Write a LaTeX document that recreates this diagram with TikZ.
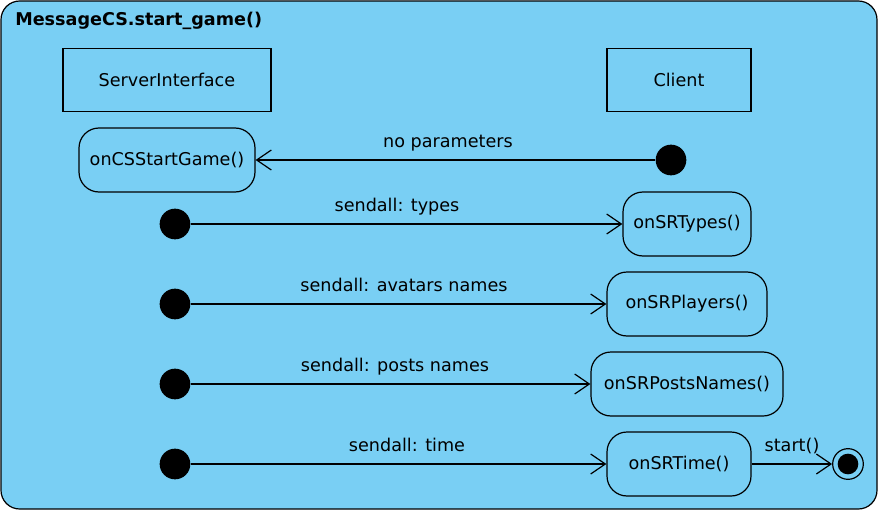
\documentclass[tikz,border=0pt]{standalone}
\usepackage{fontspec}
\setmainfont{DejaVu Sans}
\usetikzlibrary{arrows.meta}
\definecolor{bgblue}{HTML}{79CFF4}
\begin{document}
\begin{tikzpicture}[x=0.75pt,y=-0.75pt,
  font=\fontsize{13.2pt}{15pt}\selectfont,
  every node/.style={inner sep=0pt},
  lane/.style={draw=black,line width=0.9pt,minimum height=47.25pt},
  statebox/.style={draw=black,line width=0.9pt,rounded corners=15pt,minimum height=48pt},
  initdot/.style={circle,fill=black,minimum size=23pt},
  msg/.style={draw=black,line width=0.9pt,-{Straight Barb[length=11pt,width=15pt,line width=0.9pt]}},
  lbl/.style={anchor=base}
]
\useasboundingbox (0,0) rectangle (878,510);
\draw[fill=bgblue,draw=black,line width=0.9pt,rounded corners=14pt] (1,1) rectangle (877,509);
\node[anchor=base west,font=\fontsize{13.2pt}{15pt}\selectfont\bfseries] (title) at (15,26) {MessageCS.start\_game()};

\node[lane,minimum width=156pt] (srv) at (167,80) {ServerInterface};
\node[lane,minimum width=108pt] (cli) at (679,80) {Client};

\node[statebox,minimum width=132pt] (start) at (167,160) {onCSStartGame()};
\node[initdot] (d1) at (671,160) {};
\draw[msg] (d1) -- (start);
\node[lbl] (l1) at (448,147) {no parameters};

\node[initdot] (d2) at (175,224) {};
\node[statebox,minimum width=96pt] (types) at (687,224) {onSRTypes()};
\draw[msg] (d2) -- (types);
\node[lbl] (l2) at (397,211) {sendall: types};

\node[initdot] (d3) at (175,304) {};
\node[statebox,minimum width=120pt] (players) at (687,304) {onSRPlayers()};
\draw[msg] (d3) -- (players);
\node[lbl] (l3) at (404,291) {sendall: avatars names};

\node[initdot] (d4) at (175,384) {};
\node[statebox,minimum width=144pt] (posts) at (687,384) {onSRPostsNames()};
\draw[msg] (d4) -- (posts);
\node[lbl] (l4) at (395,371) {sendall: posts names};

\node[initdot] (d5) at (175,464) {};
\node[statebox,minimum width=108pt] (time) at (679,464) {onSRTime()};
\draw[msg] (d5) -- (time);
\node[lbl] (l5) at (407,451) {sendall: time};

\node[circle,draw=black,line width=0.9pt,minimum size=23pt] (final) at (848,464) {};
\node[circle,fill=black,minimum size=15.5pt] (finalin) at (848,464) {};
\draw[msg] (time) -- (final);
\node[lbl] (l6) at (792,451) {start()};
\end{tikzpicture}
\end{document}
